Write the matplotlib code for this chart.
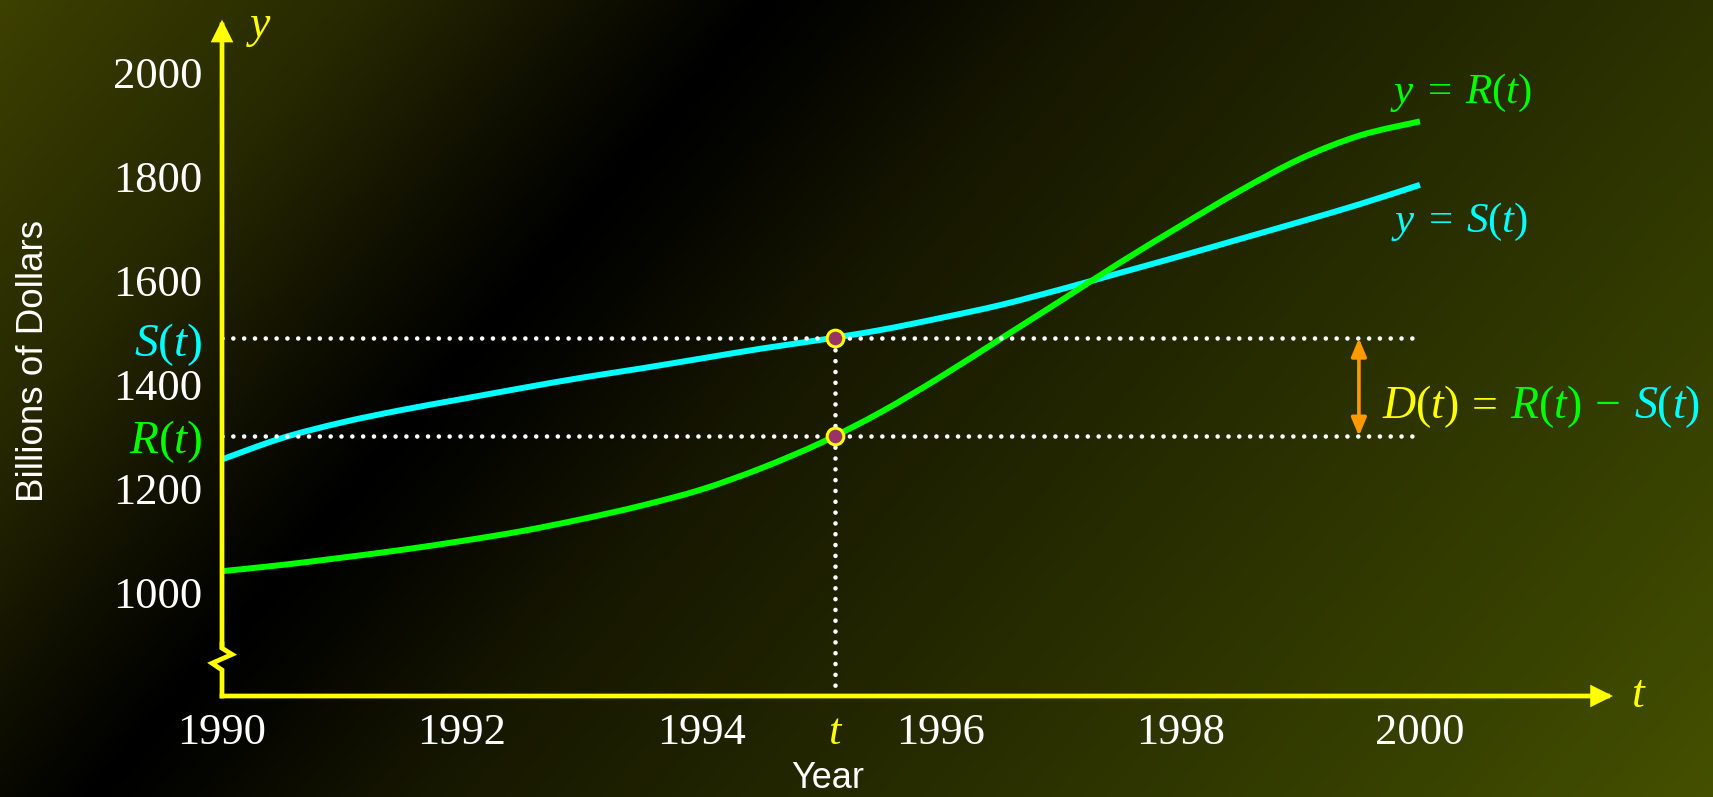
import numpy as np
import matplotlib
matplotlib.use('Agg')
import matplotlib.pyplot as plt
from matplotlib.patches import FancyArrowPatch, PathPatch
from matplotlib.path import Path
from matplotlib.transforms import IdentityTransform

plt.rcParams['font.family'] = ['Liberation Serif', 'DejaVu Serif']
plt.rcParams['mathtext.fontset'] = 'custom'
plt.rcParams['mathtext.rm'] = 'Liberation Serif'
plt.rcParams['mathtext.it'] = 'Liberation Serif:italic'

# Ingresos R(t) y gastos S(t), miles de millones de dólares
anios = [1990, 1990.5, 1991, 1991.5, 1992, 1992.5, 1993, 1993.5, 1994, 1994.5,
         1995, 1995.5, 1996, 1996.5, 1997, 1997.5, 1998, 1998.5, 1999, 1999.5, 2000]
gastos_S = [1255, 1296, 1326, 1350, 1371, 1392, 1412, 1430, 1449, 1468,
            1485, 1504, 1527, 1552, 1582, 1614, 1646, 1679, 1712, 1746, 1783]
ingresos_R = [1040, 1052, 1066, 1081, 1098, 1117, 1140, 1166, 1197, 1238,
              1287, 1346, 1414, 1487, 1560, 1634, 1704, 1772, 1833, 1878, 1905]

t_marca = 1995.12
S_t = 1488
R_t = 1300

ticks_x = [1990, 1992, 1994, 1996, 1998, 2000]
ticks_y = [1000, 1200, 1400, 1600, 1800, 2000]

W, H, DPI = 1713, 797, 100
fig = plt.figure(figsize=(W / DPI, H / DPI), dpi=DPI)

# Fondo con degradado diagonal oliva-negro-oliva
yy, xx = np.mgrid[0:H, 0:W]
s = (xx * 710 + yy * 601) / 930.0 - 584
pos = [-600, -300, -100, 0, 60, 250, 600, 1000, 1300]
rojo = [62, 38, 12, 0, 4, 22, 38, 56, 72]
verde = [66, 40, 12, 0, 4, 23, 43, 66, 84]
img = np.dstack([np.interp(s, pos, rojo), np.interp(s, pos, verde), np.zeros_like(s)]) / 255.0
bg = fig.add_axes([0, 0, 1, 1], zorder=-10)
bg.imshow(img, aspect='auto', extent=(0, 1, 0, 1), interpolation='bilinear')
bg.axis('off')

ax = fig.add_axes([222 / W, (H - 696) / H, 1437.6 / W, 676 / H])
ax.set_xlim(1990, 2002)
ax.set_ylim(800, 2100)
ax.patch.set_visible(False)
for sp in ax.spines.values():
    sp.set_visible(False)

amarillo = '#ffff00'
cian = '#00ffff'
verde_c = '#00ff00'


def curva_suave(ax, x, y, **kw):
    # Catmull-Rom pasado a tramos Bezier cúbicos que pasan por cada punto
    p = np.column_stack([x, y]).astype(float)
    verts = [p[0]]
    codes = [Path.MOVETO]
    n = len(p)
    for i in range(n - 1):
        p0 = p[max(i - 1, 0)]
        p1 = p[i]
        p2 = p[i + 1]
        p3 = p[min(i + 2, n - 1)]
        verts += [p1 + (p2 - p0) / 6, p2 - (p3 - p1) / 6, p2]
        codes += [Path.CURVE4] * 3
    ax.add_patch(PathPatch(Path(verts, codes), fill=False, **kw))


# Curvas
curva_suave(ax, anios, gastos_S, edgecolor=cian, lw=4.3, capstyle='butt', zorder=3)
curva_suave(ax, anios, ingresos_R, edgecolor=verde_c, lw=4.3, capstyle='butt', zorder=3)

# Líneas punteadas de referencia
punteado = dict(color='white', lw=3.3, linestyle=(0, (0.01, 2.35)),
                dash_capstyle='round', zorder=4)
ax.plot([1990, 2000], [S_t, S_t], **punteado)
ax.plot([1990, 2000], [R_t, R_t], **punteado)
ax.plot([t_marca, t_marca], [800, S_t], **punteado)

# Puntos en t
ax.plot([t_marca, t_marca], [S_t, R_t], 'o', ms=12, mfc='#993366', mec=amarillo,
        mew=2.2, zorder=6)

# Ejes con flecha y corte en el eje y
dx = 10 / 119.8
ax.plot([1990, 1990, 1990 + dx, 1990 - dx, 1990, 1990],
        [900, 892, 880, 863, 850, 800], color=amarillo, lw=3.4,
        solid_joinstyle='miter', solid_capstyle='projecting', zorder=5, clip_on=False)
flecha = dict(arrowstyle='-|>,head_length=1,head_width=0.5', mutation_scale=10.8,
              color=amarillo, lw=3.4, zorder=5, clip_on=False, shrinkA=0, shrinkB=0,
              capstyle='projecting', joinstyle='miter')
ax.add_patch(FancyArrowPatch((1990, 895), (1990, 2100.6), **flecha))
ax.add_patch(FancyArrowPatch((1990, 800), (2001.61, 800), **flecha))

# Flecha doble de la diferencia D(t)
ax.add_patch(FancyArrowPatch((1999.49, R_t), (1999.49, S_t),
                             arrowstyle='<|-|>,head_length=1,head_width=0.42',
                             mutation_scale=10.8, color='#ff9900', lw=2.6,
                             zorder=5, shrinkA=0, shrinkB=0))

# Marcas de los ejes
ax.set_xticks(ticks_x + [t_marca])
ax.set_xticklabels([str(v) for v in ticks_x] + ['$t$'])
ax.set_yticks(ticks_y + [S_t, R_t])
ax.set_yticklabels([str(v) for v in ticks_y] + ['$S(t)$', '$R(t)$'])
ax.tick_params(length=0, colors='white', labelsize=32)
ax.tick_params(axis='x', pad=12)
ax.tick_params(axis='y', pad=14)
xl = ax.get_xticklabels()
xl[-1].set_color(amarillo)
yl = ax.get_yticklabels()
yl[-2].set_color(cian)
yl[-1].set_color(verde_c)
yl[-2].set_fontsize(34)
yl[-1].set_fontsize(34)

# Nombres de los ejes
ax.text(1990.31, 2086, '$y$', color=amarillo, fontsize=33, ha='center', va='center')
ax.text(2001.83, 800, '$t$', color=amarillo, fontsize=33, ha='center', va='center')

fig.text(828 / W, 1 - 779 / H, 'Year', color='white', fontsize=26,
         family='Liberation Sans', ha='center', va='center')
fig.text(34 / W, 1 - 360.5 / H, 'Billions of Dollars', color='white', fontsize=26.5,
         family='Liberation Sans', ha='center', va='center', rotation=90)

# Etiquetas formadas por trozos de distinto color
fig.canvas.draw()
renderer = fig.canvas.get_renderer()


def etiqueta(x, y, piezas, size, hueco):
    x0, y0 = ax.transData.transform((x, y))
    for texto, color in piezas:
        tx = fig.text(x0, y0, texto, color=color, fontsize=size, ha='left',
                      va='baseline', transform=IdentityTransform())
        bb = tx.get_window_extent(renderer)
        x0 = bb.x1 + hueco


etiqueta(1999.68, 1334, [('$D(t)$', amarillo), ('=', amarillo), ('$R(t)$', verde_c),
                         ('\u2212', verde_c), ('$S(t)$', cian)], 33, 13)
etiqueta(1999.75, 1941, [('$y$', verde_c), ('=', verde_c), ('$R(t)$', verde_c)], 31, 13)
etiqueta(1999.76, 1693, [('$y$', cian), ('=', cian), ('$S(t)$', cian)], 31, 13)

fig.savefig('out.png', dpi=DPI)
